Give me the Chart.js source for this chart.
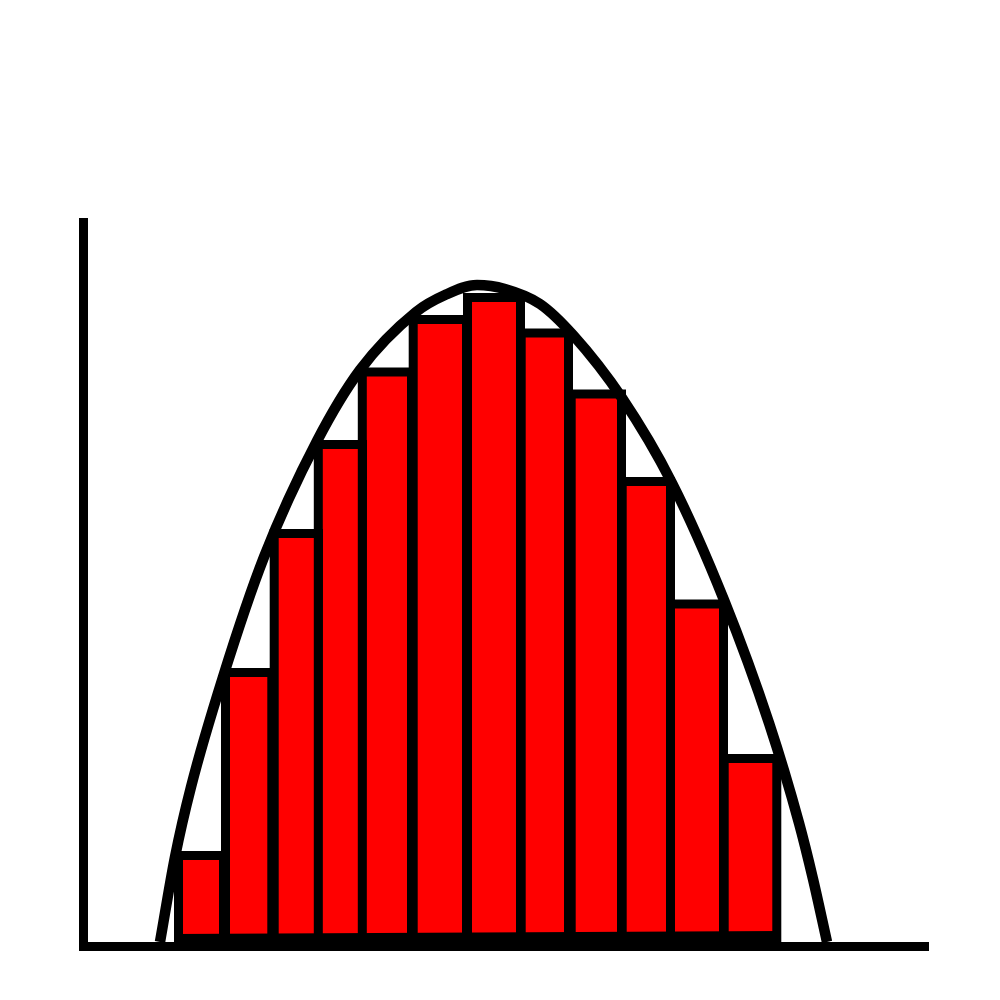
<!DOCTYPE html>
<html>
<head>
<meta charset="utf-8">
<title>Riemann bars under a curve</title>
<script src="https://cdn.jsdelivr.net/npm/chart.js@4"></script>
<style>
  html, body { margin: 0; padding: 0; background: #fff; }
  canvas { display: block; }
</style>
</head>
<body>
<canvas id="areaChart" width="1000" height="1000"></canvas>
<script>
// 12 bars of unequal width: left side, right side, height
const barLeft = [95.5, 142.5, 191.2, 235.2, 279.2, 330.2, 384.5, 438.2, 488.2, 539.2, 587.5, 641.2];
const barRight = [140.5, 188.8, 235.5, 279.5, 328.5, 383.5, 437.5, 485.5, 538.5, 587.5, 640.5, 693.8];
const barHeights = [90.5, 273.6, 412.5, 501.5, 574, 626.5, 648.5, 613, 552, 464.5, 342, 187.6];

// Black strip that the bars stand on, slightly tilted
const baseX = [91, 698];
const baseY = [12, 15];

// Curve over the bars
const curveX = [77, 92, 108, 140, 181, 234, 277, 333, 362, 394, 422, 457, 490, 539, 589, 641, 686, 716, 730, 744];
const curveY = [4, 89, 159, 269, 389, 505, 576, 634, 651, 661, 657, 642, 611, 548, 463, 346, 223, 123, 67, 4];

// Outline goes up and down each side so the walls between bars get stroked
const barOutline = [];
barHeights.forEach((h, i) => {
    barOutline.push({ x: barLeft[i], y: 0 });
    barOutline.push({ x: barLeft[i], y: h });
    barOutline.push({ x: barRight[i], y: h });
    barOutline.push({ x: barRight[i], y: 0 });
});

const toPoints = (xs, ys) => xs.map((x, i) => ({ x: x, y: ys[i] }));

const ctx = document.getElementById('areaChart').getContext('2d');
const areaChart = new Chart(ctx, {
    type: 'line',
    data: {
        datasets: [
            {
                label: 'Curve',
                data: toPoints(curveX, curveY),
                borderColor: '#000',
                borderWidth: 10.5,
                cubicInterpolationMode: 'monotone',
                pointRadius: 0,
                fill: false,
                order: 1
            },
            {
                label: 'Base',
                data: toPoints(baseX, baseY),
                borderWidth: 0,
                backgroundColor: '#000',
                pointRadius: 0,
                fill: 'origin',
                order: 2
            },
            {
                label: 'Bars',
                data: barOutline,
                borderColor: '#000',
                borderWidth: 9,
                backgroundColor: '#f00',
                borderJoinStyle: 'miter',
                tension: 0,
                pointRadius: 0,
                fill: 'origin',
                order: 3
            }
        ]
    },
    options: {
        responsive: false,
        animation: false,
        devicePixelRatio: 1,
        layout: { padding: { left: 75, top: 222, right: 72, bottom: 46 } },
        plugins: {
            legend: { display: false },
            tooltip: { enabled: false }
        },
        scales: {
            x: {
                type: 'linear',
                min: 0,
                max: 845,
                grid: { display: false },
                ticks: { display: false },
                border: { color: '#000', width: 9, z: 1 }
            },
            y: {
                type: 'linear',
                min: 0,
                max: 724,
                grid: { display: false },
                ticks: { display: false },
                border: { color: '#000', width: 9, z: 1 }
            }
        }
    }
});
</script>
</body>
</html>
